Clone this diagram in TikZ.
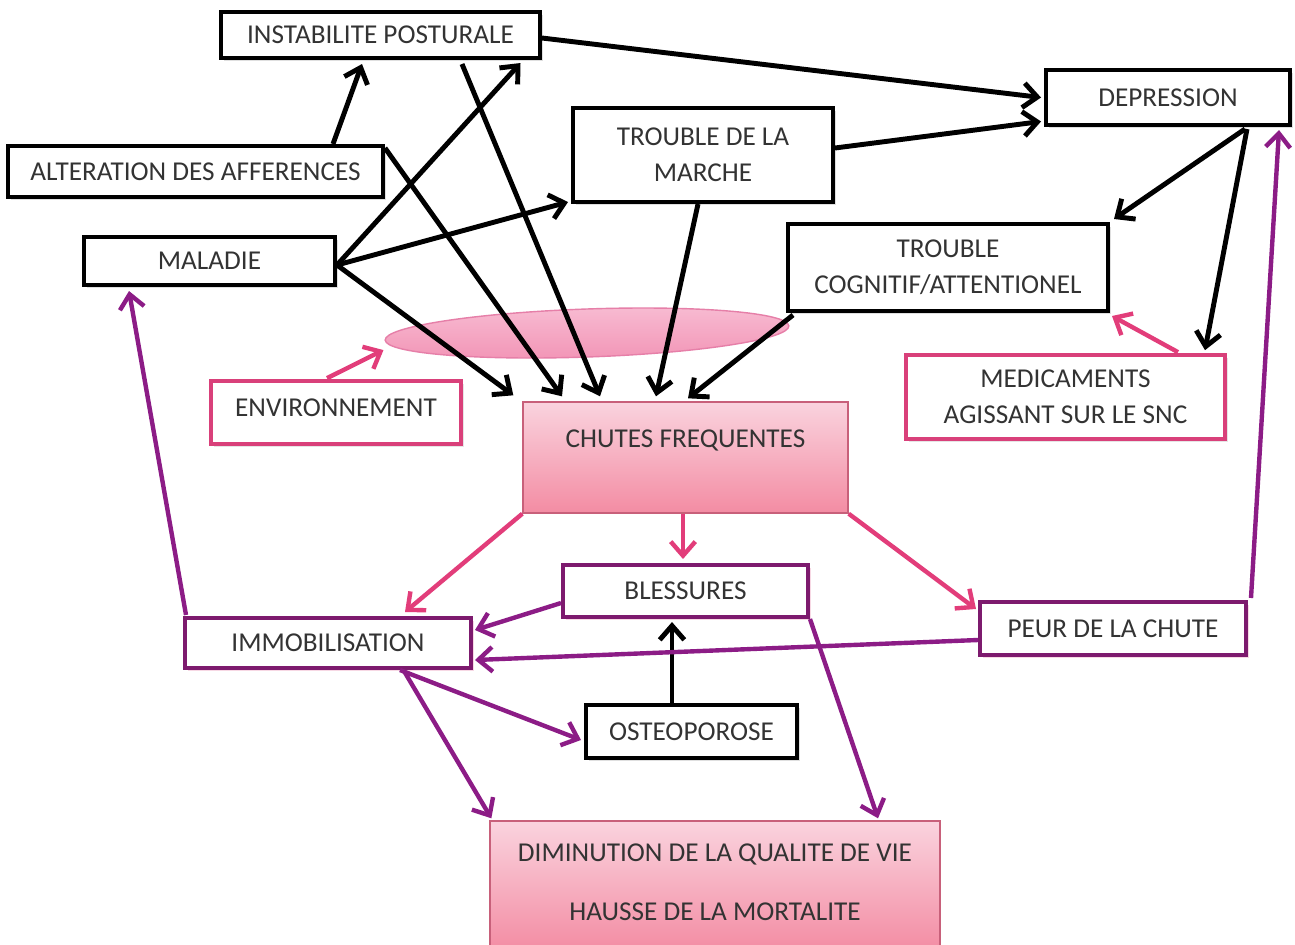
\documentclass[tikz,border=0pt]{standalone}
\usepackage{fontspec}
\setmainfont{Carlito}
\usetikzlibrary{arrows.meta,calc,shapes.geometric,shadows}
\definecolor{txt}{HTML}{333333}
\definecolor{pinkb}{HTML}{D9407A}
\definecolor{pinka}{HTML}{E23D7A}
\definecolor{purpb}{HTML}{7D1A6E}
\definecolor{purpa}{HTML}{8C1C86}
\definecolor{gradb}{HTML}{C8607A}
\definecolor{gtop}{HTML}{FAD3DE}
\definecolor{gbot}{HTML}{F38CA3}
\definecolor{etop}{HTML}{F8BCD2}
\definecolor{ebot}{HTML}{F294B6}
\definecolor{ebord}{HTML}{E67FA8}
\newcommand{\lbfont}{\fontsize{15.5}{20.5}\selectfont}
\begin{document}
\begin{tikzpicture}[x=0.02cm,y=-0.02cm,
  boxbase/.style={rectangle, inner sep=0pt, text=txt, font=\lbfont, align=center},
  bbox/.style={boxbase, draw=black, line width=2.3pt, fill=white,
    drop shadow={shadow xshift=1.5pt, shadow yshift=-1.5pt, opacity=0.25}},
  pbox/.style={boxbase, draw=pinkb, line width=2.1pt, fill=white,
    drop shadow={shadow xshift=1.5pt, shadow yshift=-1.5pt, opacity=0.2}},
  vbox/.style={boxbase, draw=purpb, line width=2.3pt, fill=white,
    drop shadow={shadow xshift=1.5pt, shadow yshift=-1.5pt, opacity=0.2, fill=pinkb}},
  gbox/.style={boxbase, draw=gradb, line width=0.8pt, top color=gtop, bottom color=gbot},
  lbl/.style={text=txt, font=\lbfont, inner sep=0pt},
  blk/.style={draw=black, line width=2.8pt, -{Straight Barb[length=8pt,width=14pt]}},
  pka/.style={draw=pinka, line width=2.5pt, -{Straight Barb[length=8pt,width=14pt]}},
  pua/.style={draw=purpa, line width=2.5pt, -{Straight Barb[length=8pt,width=14pt]}}
]
\useasboundingbox (0,0) rectangle (1295,944);
\fill[white] (0,0) rectangle (1295,944);

% ellipse
\node[ellipse, draw=ebord, line width=0.8pt, top color=etop, bottom color=ebot,
  minimum width=8.08cm, minimum height=0.96cm, rotate=2, inner sep=0pt] (ell) at (587,333) {};

% nodes
\node[bbox, minimum width=6.38cm, minimum height=0.92cm] (inst) at (380.5,35) {INSTABILITE POSTURALE};
\node[bbox, minimum width=4.88cm, minimum height=1.10cm] (dep) at (1168,97.5) {DEPRESSION};
\node[bbox, minimum width=5.2cm, minimum height=1.88cm] (marche) at (703,155) {TROUBLE DE LA\\MARCHE};
\node[bbox, minimum width=7.5cm, minimum height=1.02cm] (alt) at (195.5,171.5) {ALTERATION DES AFFERENCES};
\node[bbox, minimum width=5.02cm, minimum height=0.96cm] (mal) at (209.5,261) {MALADIE};
\node[bbox, minimum width=6.4cm, minimum height=1.74cm] (cog) at (948,267.5) {TROUBLE\\COGNITIF/ATTENTIONEL};
\node[pbox, minimum width=5.0cm, minimum height=1.26cm] (env) at (336,412.5) {};
\node[lbl] (envtxt) at (336,408) {ENVIRONNEMENT};
\node[gbox, minimum width=6.5cm, minimum height=2.22cm] (chutes) at (685.5,457.5) {};
\node[lbl] (chutestxt) at (685.5,440) {CHUTES FREQUENTES};
\node[pbox, minimum width=6.38cm, minimum height=1.68cm] (med) at (1065.5,397) {MEDICAMENTS\\AGISSANT SUR LE SNC};
\node[vbox, minimum width=4.9cm, minimum height=1.04cm] (bless) at (685.5,591) {BLESSURES};
\node[vbox, minimum width=5.72cm, minimum height=1.0cm] (immo) at (328,643) {IMMOBILISATION};
\node[vbox, minimum width=5.32cm, minimum height=1.06cm] (peur) at (1113,628.5) {PEUR DE LA CHUTE};
\node[bbox, minimum width=4.22cm, minimum height=1.06cm] (ost) at (691.5,731.5) {OSTEOPOROSE};
\node[gbox, minimum width=9.0cm, minimum height=2.6cm] (dim) at (715,886) {};
\node[lbl, align=center] (dimtxt) at (715,882) {DIMINUTION DE LA QUALITE DE VIE\\[13pt]HAUSSE DE LA MORTALITE};

% black arrows
\draw[blk] ($(alt.north)+(137.5,0)$) -- ($(inst.south)+(-18.5,4)$);
\draw[blk] ($(inst.east)+(0,3)$) -- ($(dep.west)+(-3,0)$);
\draw[blk] ($(marche.east)+(0,-7)$) -- ($(dep.west)+(-3,24)$);
\draw[blk] ($(mal.east)+(0,4)$) -- ($(inst.south)+(140,3)$);
\draw[blk] ($(mal.east)+(0,4)$) -- ($(marche.south west)+(-3,-2)$);
\draw[blk] ($(mal.east)+(0,4)$) -- ($(chutes.north west)+(-9,-6)$);
\draw[blk] ($(alt.north east)+(0,4)$) -- ($(chutes.north)+(-123.5,-5)$);
\draw[blk] ($(inst.south)+(81.5,4)$) -- ($(chutes.north)+(-85.5,-5)$);
\draw[blk] ($(marche.south)+(-5,0)$) -- ($(chutes.north)+(-29.5,-5)$);
\draw[blk] ($(cog.south west)+(7,2)$) -- ($(chutes.north)+(2.5,-3)$);
\draw[blk] ($(dep.south)+(77,2)$) -- ($(cog.north east)+(4,-3)$);
\draw[blk] ($(dep.south)+(79,2)$) -- ($(med.north)+(139.5,-3)$);
\draw[blk] ($(ost.north)+(-19.5,0)$) -- ($(bless.south)+(-13.5,3)$);

% pink arrows
\draw[pka] ($(env.north)+(-9,-1)$) -- ($(ell.west)+(-1,10)$);
\draw[pka] ($(med.north)+(112.5,-1)$) -- ($(cog.south east)+(2,3)$);
\draw[pka] ($(chutes.south)+(-2.5,0)$) -- ($(bless.north)+(-2.5,-4)$);
\draw[pka] (chutes.south west) -- ($(immo.north)+(77,-4)$);
\draw[pka] (chutes.south east) -- ($(peur.north west)+(-2,9)$);

% purple arrows
\draw[pua] ($(immo.north west)+(3,-1)$) -- ($(mal.south west)+(47,4)$);
\draw[pua] ($(peur.north east)+(3,-2)$) -- ($(dep.south east)+(-13,3)$);
\draw[pua] ($(bless.west)+(0,12)$) -- ($(immo.east)+(2,-13)$);
\draw[pua] ($(peur.west)+(0,11.5)$) -- ($(immo.east)+(2,17)$);
\draw[pua] ($(immo.south)+(72,0)$) -- ($(ost.west)+(-3,8.5)$);
\draw[pua] ($(immo.south)+(76,1)$) -- ($(dim.north west)+(2,-2)$);
\draw[pua] (bless.south east) -- ($(dim.north)+(163,-2)$);
\end{tikzpicture}
\end{document}
